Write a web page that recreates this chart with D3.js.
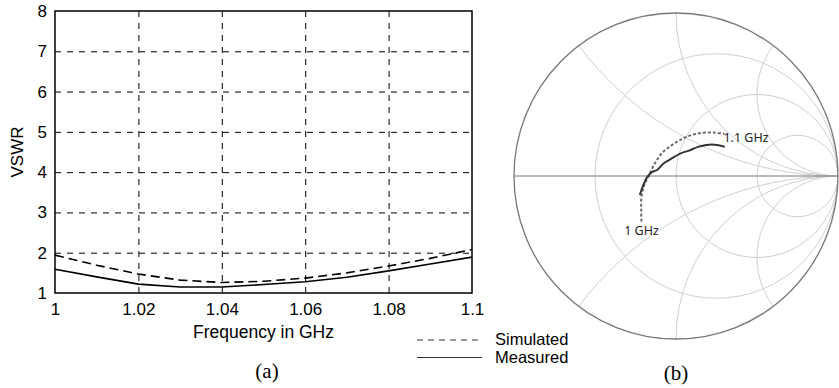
<!DOCTYPE html>
<html>
<head>
<meta charset="utf-8">
<script src="https://cdn.jsdelivr.net/npm/d3@7"></script>
<style>
  body { margin: 0; background: #fff; }
  svg { display: block; }
</style>
</head>
<body>
<div class="chart"></div>
<script>
// (a) VSWR vs frequency
const freq = [1.00, 1.01, 1.02, 1.03, 1.04, 1.05, 1.06, 1.07, 1.08, 1.09, 1.10];
const vswrSim = [1.94, 1.69, 1.47, 1.32, 1.26, 1.29, 1.37, 1.50, 1.67, 1.86, 2.08];
const vswrMeas = [1.59, 1.40, 1.22, 1.15, 1.15, 1.21, 1.28, 1.39, 1.55, 1.72, 1.89];
const xTicks = [1, 1.02, 1.04, 1.06, 1.08, 1.1];
const yTicks = [1, 2, 3, 4, 5, 6, 7, 8];
const legendLabels = ['Simulated', 'Measured'];

// (b) Smith chart, reflection coefficient (real, imag)
const smithR = [1 / 3, 1, 3];
const smithX = [0.5, 1, 2];
const simRe = [-0.213, -0.215, -0.213, -0.196, -0.166, -0.129, -0.086, -0.025, 0.037, 0.098, 0.160, 0.233, 0.299];
const simIm = [-0.280, -0.209, -0.127, -0.055, 0.006, 0.080, 0.141, 0.190, 0.227, 0.252, 0.264, 0.267, 0.258];
const measRe = [-0.223, -0.209, -0.176, -0.147, -0.117, -0.080, -0.043, 0.029, 0.080, 0.141, 0.221, 0.301];
const measIm = [-0.117, -0.074, -0.004, 0.025, 0.037, 0.074, 0.098, 0.139, 0.156, 0.180, 0.194, 0.180];
const startLabel = '1 GHz';
const endLabel = '1.1 GHz';

const W = 839, H = 388;
const SANS = 'Arial, "Liberation Sans", sans-serif';
const SERIF = '"Liberation Serif", "Times New Roman", serif';

const svg = d3.select('.chart').append('svg')
  .attr('width', W)
  .attr('height', H);
svg.append('rect').attr('width', W).attr('height', H).attr('fill', '#fff');

// ---------- (a) ----------
const x = d3.scaleLinear().domain([1, 1.1]).range([55, 472]);
const y = d3.scaleLinear().domain([1, 8]).range([293, 11]);

const grid = svg.append('g');
grid.append('g')
  .attr('transform', `translate(0, ${y(1)})`)
  .call(d3.axisBottom(x).tickValues(xTicks.slice(1, -1)).tickSize(-(y(1) - y(8))).tickFormat(''))
  .call(g => g.select('.domain').remove());
grid.append('g')
  .attr('transform', `translate(${x(1)}, 0)`)
  .call(d3.axisLeft(y).tickValues(yTicks.slice(1, -1)).tickSize(-(x(1.1) - x(1))).tickFormat(''))
  .call(g => g.select('.domain').remove());
grid.selectAll('line')
  .attr('stroke', '#000')
  .attr('stroke-width', 1)
  .attr('stroke-dasharray', '6,6');

svg.append('g')
  .attr('transform', `translate(0, ${y(1)})`)
  .call(d3.axisBottom(x).tickValues(xTicks).tickSize(0).tickPadding(10).tickFormat(d => String(d)))
  .call(g => g.select('.domain').remove())
  .call(g => g.selectAll('text').attr('font-size', 17).attr('font-family', SANS).attr('fill', '#000'));

svg.append('g')
  .attr('transform', `translate(${x(1)}, 0)`)
  .call(d3.axisLeft(y).tickValues(yTicks).tickSize(0).tickPadding(8).tickFormat(d3.format('d')))
  .call(g => g.select('.domain').remove())
  .call(g => g.selectAll('text').attr('font-size', 17).attr('font-family', SANS).attr('fill', '#000'));

const line = d3.line()
  .x(d => x(d[0]))
  .y(d => y(d[1]));

svg.append('path')
  .datum(freq.map((f, i) => [f, vswrSim[i]]))
  .attr('d', line)
  .attr('fill', 'none')
  .attr('stroke', '#000')
  .attr('stroke-width', 1.6)
  .attr('stroke-dasharray', '9,5');

svg.append('path')
  .datum(freq.map((f, i) => [f, vswrMeas[i]]))
  .attr('d', line)
  .attr('fill', 'none')
  .attr('stroke', '#000')
  .attr('stroke-width', 1.6);

svg.append('rect')
  .attr('x', x(1)).attr('y', y(8))
  .attr('width', x(1.1) - x(1)).attr('height', y(1) - y(8))
  .attr('fill', 'none')
  .attr('stroke', '#000')
  .attr('stroke-width', 1.5);

svg.append('text')
  .attr('transform', `translate(23, ${(y(1) + y(8)) / 2}) rotate(-90)`)
  .attr('text-anchor', 'middle')
  .attr('font-family', SANS)
  .attr('font-size', 17)
  .text('VSWR');

svg.append('text')
  .attr('x', (x(1) + x(1.1)) / 2).attr('y', 338)
  .attr('text-anchor', 'middle')
  .attr('font-family', SANS)
  .attr('font-size', 17.5)
  .text('Frequency in GHz');

svg.append('text')
  .attr('x', 267).attr('y', 378)
  .attr('text-anchor', 'middle')
  .attr('font-family', SERIF)
  .attr('font-size', 21)
  .text('(a)');

// legend
const legend = svg.append('g');
legendLabels.forEach((lbl, i) => {
  const ly = 340 + i * 17.5;
  legend.append('line')
    .attr('x1', 417).attr('x2', 482)
    .attr('y1', ly).attr('y2', ly)
    .attr('stroke', '#333')
    .attr('stroke-width', 1.1)
    .attr('stroke-dasharray', i === 0 ? '6,5' : null);
  legend.append('text')
    .attr('x', 495).attr('y', ly + 5)
    .attr('font-family', SANS)
    .attr('font-size', 16.5)
    .text(lbl);
});

// ---------- (b) Smith chart ----------
const gx = d3.scaleLinear().domain([-1, 1]).range([514, 838]);
const gy = d3.scaleLinear().domain([-1, 1]).range([339, 13]);
const rx = (gx(1) - gx(-1)) / 2;
const ry = (gy(-1) - gy(1)) / 2;

svg.append('defs').append('clipPath').attr('id', 'unit')
  .append('ellipse')
  .attr('cx', gx(0)).attr('cy', gy(0))
  .attr('rx', rx).attr('ry', ry);

const smith = svg.append('g').attr('clip-path', 'url(#unit)');

smith.selectAll('.rcircle')
  .data(smithR)
  .enter().append('ellipse')
  .attr('class', 'rcircle')
  .attr('cx', r => gx(r / (1 + r)))
  .attr('cy', gy(0))
  .attr('rx', r => rx / (1 + r))
  .attr('ry', r => ry / (1 + r))
  .attr('fill', 'none')
  .attr('stroke', '#cfcfcf')
  .attr('stroke-width', 1);

const xArcs = smithX.flatMap(v => [v, -v]);
smith.selectAll('.xarc')
  .data(xArcs)
  .enter().append('ellipse')
  .attr('class', 'xarc')
  .attr('cx', gx(1))
  .attr('cy', v => gy(1 / v))
  .attr('rx', v => rx / Math.abs(v))
  .attr('ry', v => ry / Math.abs(v))
  .attr('fill', 'none')
  .attr('stroke', '#cfcfcf')
  .attr('stroke-width', 1);

svg.append('line')
  .attr('x1', gx(-1)).attr('x2', gx(1))
  .attr('y1', gy(0)).attr('y2', gy(0))
  .attr('stroke', '#777')
  .attr('stroke-width', 1.2);

svg.append('ellipse')
  .attr('cx', gx(0)).attr('cy', gy(0))
  .attr('rx', rx).attr('ry', ry)
  .attr('fill', 'none')
  .attr('stroke', '#777')
  .attr('stroke-width', 1.3);

const gline = d3.line()
  .x(d => gx(d[0]))
  .y(d => gy(d[1]))
  .curve(d3.curveCatmullRom.alpha(0.5));

svg.append('path')
  .datum(simRe.map((re, i) => [re, simIm[i]]))
  .attr('d', gline)
  .attr('fill', 'none')
  .attr('stroke', '#6a6a6a')
  .attr('stroke-width', 2)
  .attr('stroke-dasharray', '3,2');

svg.append('path')
  .datum(measRe.map((re, i) => [re, measIm[i]]))
  .attr('d', gline)
  .attr('fill', 'none')
  .attr('stroke', '#333')
  .attr('stroke-width', 2);

svg.append('text')
  .attr('x', gx(simRe[0])).attr('y', gy(simIm[0]) + 13)
  .attr('text-anchor', 'middle')
  .attr('font-family', '"Noto Sans", "Open Sans", sans-serif')
  .attr('font-size', 12.5)
  .attr('fill', '#222')
  .text(startLabel);

svg.append('text')
  .attr('x', gx(simRe[simRe.length - 1]) - 1).attr('y', gy(simIm[simIm.length - 1]) + 8)
  .attr('font-family', '"Noto Sans", "Open Sans", sans-serif')
  .attr('font-size', 12.5)
  .attr('fill', '#222')
  .text(endLabel);

svg.append('text')
  .attr('x', gx(0)).attr('y', 380)
  .attr('text-anchor', 'middle')
  .attr('font-family', SERIF)
  .attr('font-size', 21)
  .text('(b)');
</script>
</body>
</html>
